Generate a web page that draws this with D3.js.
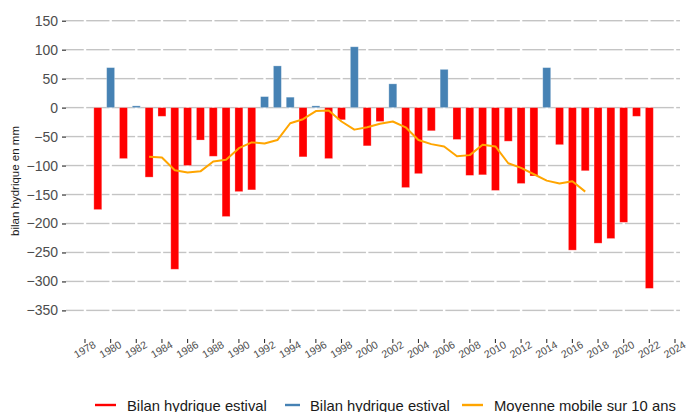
<!DOCTYPE html>
<html>
<head>
<meta charset="utf-8">
<script src="https://cdn.jsdelivr.net/npm/d3@7"></script>
<style>
  html, body { margin: 0; padding: 0; background: #fff; }
  svg { display: block; font-family: "Liberation Sans", Arial, sans-serif; }
</style>
</head>
<body>
<svg id="chart" width="687" height="412"></svg>
<script>
// Summer water balance (mm) per year
const years = [1979,1980,1981,1982,1983,1984,1985,1986,1987,1988,1989,1990,1991,1992,1993,1994,1995,1996,1997,1998,1999,2000,2001,2002,2003,2004,2005,2006,2007,2008,2009,2010,2011,2012,2013,2014,2015,2016,2017,2018,2019,2020,2021,2022];
const balance = [-176,69,-88,3,-120,-15,-279,-100,-56,-84,-188,-145,-142,19,72,18,-85,3,-88,-21,105,-66,-24,41,-138,-114,-40,66,-55,-117,-116,-143,-58,-131,-118,69,-64,-246,-109,-234,-226,-198,-15,-312];

// 10-year moving average
const maYears = [1983,1984,1985,1986,1987,1988,1989,1990,1991,1992,1993,1994,1995,1996,1997,1998,1999,2000,2001,2002,2003,2004,2005,2006,2007,2008,2009,2010,2011,2012,2013,2014,2015,2016,2017];
const maValues = [-85,-86,-108,-112,-110,-93,-90,-70,-60,-62,-56,-27,-20,-6,-5,-24,-38,-34,-28,-24,-34,-56,-63,-67,-84,-82,-64,-67,-96,-104,-115,-126,-131,-127,-145];

const xTicks = d3.range(1978, 2025, 2);
const yTicks = d3.range(150, -351, -50);

const legendItems = [
  { label: "Bilan hydrique estival", color: "#FF0000" },
  { label: "Bilan hydrique estival", color: "#4682B4" },
  { label: "Moyenne mobile sur 10 ans", color: "#FFA500" }
];

const svg = d3.select("#chart");

const panelLeft = 66, panelRight = 680, panelBottom = 339;
const x = d3.scaleLinear().domain([1976.52, 2024.39]).range([panelLeft, panelRight]);
const y = d3.scaleLinear().domain([150, -350]).range([20.7, 310.4]);
const step = x(1979) - x(1978);
const barW = step * 0.62;

// Horizontal grid, broken at each x tick
const breaks = [panelLeft, ...xTicks.map(t => x(t)), panelRight];
const grid = svg.append("g");
yTicks.forEach(v => {
  for (let i = 0; i < breaks.length - 1; i++) {
    const a = breaks[i] + (i === 0 ? 0 : 1.2);
    const b = breaks[i + 1] - (i === breaks.length - 2 ? 0 : 1.2);
    if (b <= a) continue;
    grid.append("line")
      .attr("x1", a).attr("x2", b)
      .attr("y1", y(v)).attr("y2", y(v))
      .attr("stroke", "#c4c4c4").attr("stroke-width", 1.4);
  }
});

// Y axis ticks and labels
const yAxis = svg.append("g").attr("transform", `translate(${panelLeft},0)`)
  .call(d3.axisLeft(y).tickValues(yTicks).tickSize(4).tickPadding(4).tickFormat(d3.format("d")));
yAxis.select(".domain").remove();
yAxis.selectAll(".tick line").attr("stroke", "#333").attr("stroke-width", 1.2);
yAxis.selectAll(".tick text").attr("fill", "#4d4d4d").style("font-size", "14px")
  .style("font-family", "'Liberation Sans', Arial, sans-serif");

// X axis ticks and rotated labels
const xAxis = svg.append("g").attr("transform", `translate(0,${panelBottom})`);
xTicks.forEach(t => {
  xAxis.append("line")
    .attr("x1", x(t)).attr("x2", x(t)).attr("y1", 0).attr("y2", 4)
    .attr("stroke", "#333").attr("stroke-width", 1.1);
  xAxis.append("text")
    .attr("transform", `translate(${x(t) - 0.3},10.5) rotate(-30)`)
    .attr("text-anchor", "middle").attr("dy", "0.35em")
    .attr("fill", "#4d4d4d").style("font-size", "10.5px")
    .text(t);
});

// Bars
svg.append("g").selectAll("rect")
  .data(years.map((yr, i) => ({ yr, v: balance[i] })))
  .join("rect")
  .attr("x", d => x(d.yr) - barW / 2)
  .attr("width", barW)
  .attr("y", d => y(Math.max(0, d.v)))
  .attr("height", d => Math.abs(y(d.v) - y(0)))
  .attr("fill", d => d.v >= 0 ? "#4682B4" : "#FF0000")
  .attr("stroke", "#ffffff").attr("stroke-opacity", 0.35).attr("stroke-width", 0.8);

// Moving average line
const line = d3.line().x(d => x(d[0])).y(d => y(d[1]));
svg.append("path")
  .datum(maYears.map((yr, i) => [yr, maValues[i]]))
  .attr("d", line)
  .attr("fill", "none").attr("stroke", "#FFA500").attr("stroke-width", 2)
  .attr("stroke-linejoin", "round");

// Y axis title
svg.append("text")
  .attr("transform", "translate(19,181) rotate(-90)")
  .attr("text-anchor", "middle")
  .attr("fill", "#1a1a1a").style("font-size", "11.5px")
  .text("bilan hydrique en mm");

// Legend along the bottom edge
const legendPos = [{ x1: 95, x2: 116, tx: 127 }, { x1: 285, x2: 300, tx: 310 }, { x1: 462, x2: 483, tx: 494 }];
const legend = svg.append("g");
legendItems.forEach((item, i) => {
  const p = legendPos[i];
  legend.append("line")
    .attr("x1", p.x1).attr("x2", p.x2).attr("y1", 405).attr("y2", 405)
    .attr("stroke", item.color).attr("stroke-width", 2.4);
  legend.append("text")
    .attr("x", p.tx).attr("y", 410.5)
    .attr("fill", "#1a1a1a").style("font-size", "14.8px")
    .text(item.label);
});
</script>
</body>
</html>
